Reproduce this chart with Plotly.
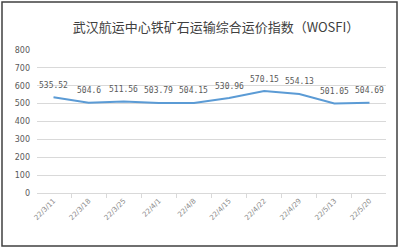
import plotly.graph_objects as go

dates = ["22/3/11", "22/3/18", "22/3/25", "22/4/1", "22/4/8", "22/4/15",
         "22/4/22", "22/4/29", "22/5/13", "22/5/20"]
values = [535.52, 504.6, 511.56, 503.79, 504.15, 530.96, 570.15, 554.13, 501.05, 504.69]
labels = ["535.52", "504.6", "511.56", "503.79", "504.15", "530.96",
          "570.15", "554.13", "501.05", "504.69"]
title = "武汉航运中心铁矿石运输综合运价指数（WOSFI）"

fig = go.Figure()
fig.add_trace(go.Scatter(
    x=dates, y=values, mode="lines",
    line=dict(color="#5b9bd5", width=2),
    hoverinfo="skip",
))
for d, v, t in zip(dates, values, labels):
    fig.add_annotation(x=d, y=v, text=t, showarrow=False, yshift=12,
                       font=dict(family="DejaVu Sans Mono", size=8, color="#595959"))

fig.update_layout(
    width=400, height=249,
    margin=dict(l=37, r=14, t=50, b=56),
    paper_bgcolor="white", plot_bgcolor="white",
    showlegend=False,
    title=dict(text=title, x=0.54, xanchor="center", y=0.89, yanchor="middle",
               font=dict(family="Noto Sans CJK SC", size=13, color="#404040")),
    font=dict(family="DejaVu Sans", color="#595959"),
)
fig.update_yaxes(range=[0, 800], dtick=100, showgrid=True, gridcolor="#d9d9d9",
                 gridwidth=1, zeroline=False, showline=False,
                 tickfont=dict(size=8, color="#595959"), ticks="", ticklabelstandoff=6)
fig.update_xaxes(type="category", showgrid=False, showline=True, linecolor="#d9d9d9",
                 ticks="outside", tickson="boundaries", ticklen=4, tickcolor="#d9d9d9",
                 tickangle=-45, tickfont=dict(size=7, color="#8c8c8c"))
fig.add_shape(type="rect", xref="paper", yref="paper", x0=(2-37)/349, x1=(397-37)/349,
              y0=-(56-3)/143, y1=1 + (50-2)/143,
              line=dict(color="#404040", width=1.5), fillcolor="rgba(0,0,0,0)", layer="above")
fig.write_html("out.html")
